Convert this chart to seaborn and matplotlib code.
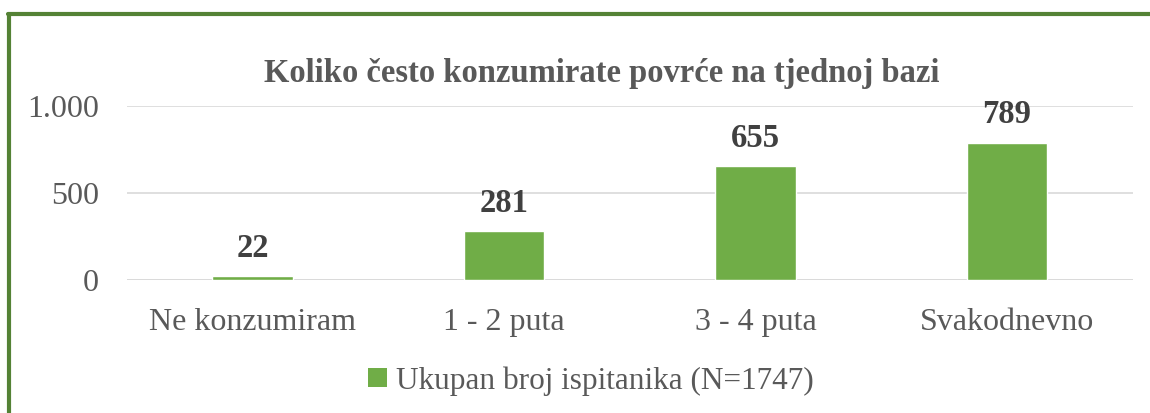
import matplotlib
matplotlib.use("Agg")
import matplotlib.pyplot as plt
import seaborn as sns
import pandas as pd
from matplotlib.lines import Line2D
from matplotlib.patches import Patch

categories = ["Ne konzumiram", "1 - 2 puta", "3 - 4 puta", "Svakodnevno"]
counts = [22, 281, 655, 789]
yticks = [0, 500, 1000]
ytick_labels = ["0", "500", "1.000"]
title = "Koliko često konzumirate povrće na tjednoj bazi"
series_name = "Ukupan broj ispitanika (N=1747)"

sns.set_theme(style="white")
plt.rcParams['font.family'] = ['Liberation Serif', 'DejaVu Serif']

txt = '#595959'
bar_col = '#70AD47'

df = pd.DataFrame({"kat": categories, "n": counts})

fig = plt.figure(figsize=(11.5, 4.13), dpi=100)
ax = fig.add_axes([0.1104, 0.322, 0.8746, 0.421])
sns.barplot(data=df, x="kat", y="n", color=bar_col, width=0.32, saturation=1, ax=ax)

ax.set_ylim(0, 1000)
ax.set_xlim(-0.5, 3.5)
ax.set_yticks(yticks)
ax.set_yticklabels(ytick_labels)
ax.grid(axis='y', color='#D9D9D9', linewidth=1.2)
ax.set_axisbelow(True)
for s in ax.spines.values():
    s.set_visible(False)
ax.axhline(0, color='#D9D9D9', linewidth=1.2, zorder=0)
ax.tick_params(axis='both', length=0, labelsize=23, colors=txt)
ax.tick_params(axis='y', pad=20)
ax.tick_params(axis='x', pad=20)
ax.set_xlabel("")
ax.set_ylabel("")

for i, v in enumerate(counts):
    ax.annotate(str(v), (i, v), xytext=(0, 9), textcoords='offset points',
                ha='center', va='bottom', fontsize=23.5, fontweight='bold', color='#404040')

fig.text(0.523, 0.822, title, ha='center', va='center', fontsize=23.5,
         fontweight='bold', color=txt)

handles = [Patch(facecolor=bar_col, edgecolor='none', label=series_name)]
fig.legend(handles=handles, loc='center', bbox_to_anchor=(0.514, 0.078), frameon=False,
           fontsize=22.5, labelcolor=txt, handlelength=0.6, handleheight=0.6,
           handletextpad=0.3)

# green chart border (top and left visible)
border = '#548235'
fig.add_artist(Line2D([8 / 1150, 1.0], [1 - 14 / 413, 1 - 14 / 413], color=border,
                      linewidth=3, transform=fig.transFigure))
fig.add_artist(Line2D([9 / 1150, 9 / 1150], [0, 1 - 14 / 413], color=border,
                      linewidth=3, transform=fig.transFigure))

fig.savefig("out.png", dpi=100)
